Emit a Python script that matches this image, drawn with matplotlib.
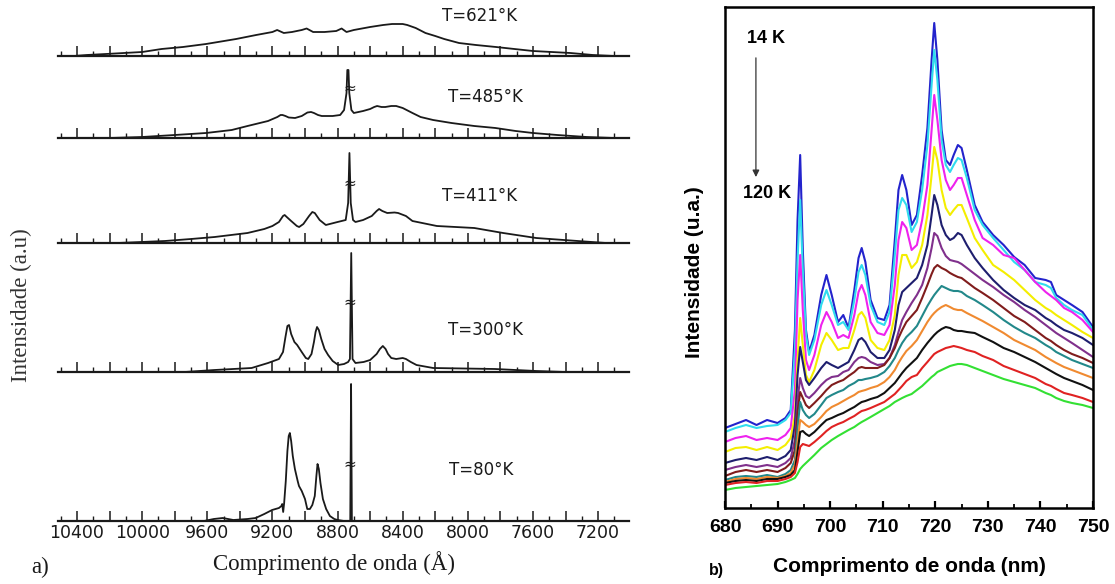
import matplotlib

matplotlib.use("Agg")
import matplotlib.pyplot as plt
from matplotlib.ticker import FuncFormatter, MultipleLocator

# ---------------- panel a: spectra (wavelength in Angstrom, height above baseline) ----------
a_temps = ["T=621°K", "T=485°K", "T=411°K", "T=300°K", "T=80°K"]

a621_wl = [10420, 10340, 10223, 10000, 9881, 9750, 9608, 9423, 9300, 9200, 9171, 9130, 9080,
           9020, 8990, 8950, 8880, 8808, 8775, 8745, 8700, 8600, 8520, 8465, 8400, 8372, 8320,
           8260, 8200, 8145, 8054, 7950, 7827, 7600, 7370, 7232, 7100]
a621_h = [0, 1, 2, 4, 7, 9, 12, 17, 21, 24, 26, 23, 24, 26, 27.5, 24, 24, 25, 27.5, 24, 26, 29,
          31, 32, 32, 31, 28, 23, 20, 17, 13, 11, 9, 5, 3, 1, 0]

a485_wl = [10200, 10000, 9800, 9608, 9450, 9353, 9227, 9170, 9150, 9138, 9120, 9100, 9061, 9020,
           8985, 8963, 8945, 8920, 8897, 8830, 8784, 8760, 8745, 8740, 8733, 8728, 8715, 8700,
           8643, 8600, 8575, 8557, 8530, 8507, 8470, 8440, 8400, 8340, 8290, 8213, 8100, 7960,
           7830, 7706, 7600, 7451, 7270, 7100]
a485_h = [0, 1, 3, 5, 8, 12, 17, 21, 23, 23, 22, 20.5, 20, 22, 25.5, 26, 25, 23, 22, 22, 23, 28,
          45, 68, 68, 45, 28, 25, 27, 29, 31, 32, 31, 31, 32, 32, 30, 25, 21, 18, 15, 12, 10, 7,
          5, 3, 1, 0]

a411_wl = [10150, 9860, 9700, 9555, 9353, 9250, 9200, 9160, 9135, 9125, 9112, 9085, 9050, 9036,
           9010, 8975, 8955, 8940, 8910, 8872, 8800, 8750, 8735, 8727, 8719, 8705, 8690, 8643,
           8590, 8560, 8545, 8525, 8495, 8450, 8428, 8380, 8340, 8190, 7960, 7783, 7580, 7325,
           7150]
a411_h = [0, 2, 4, 6, 10, 14, 17, 21, 27, 28, 26, 22, 17, 16, 19, 27, 31, 30, 23, 18, 21, 23,
          40, 90, 40, 23, 21, 23, 27, 32, 34, 32, 30, 30.5, 30, 27, 22, 17, 15, 10, 5, 2, 0]

a300_wl = [9740, 9555, 9328, 9227, 9160, 9135, 9120, 9108, 9098, 9085, 9065, 9048, 9020, 8995,
           8980, 8960, 8945, 8935, 8926, 8915, 8900, 8880, 8858, 8830, 8796, 8760, 8735, 8724,
           8716, 8708, 8690, 8640, 8600, 8560, 8540, 8522, 8505, 8490, 8470, 8440, 8400, 8380,
           8350, 8315, 8213, 7833, 7580, 7400]
a300_h = [0, 2, 4, 9, 13, 20, 35, 46, 47, 38, 30, 27, 20, 14, 13, 18, 30, 40, 45, 42, 33, 23,
          17, 11, 7, 8, 10, 13, 119, 13, 9, 10, 12, 18, 23, 26, 23, 18, 14, 13, 14, 13, 10, 7,
          4, 3, 1, 0]

a80_wl = [9620, 9560, 9505, 9440, 9353, 9303, 9250, 9202, 9160, 9145, 9140, 9134, 9128, 9118,
          9108, 9100, 9093, 9085, 9075, 9062, 9045, 9037, 9020, 9000, 8986, 8970, 8955, 8940,
          8930, 8923, 8915, 8905, 8890, 8870, 8847, 8820, 8800, 8760, 8722, 8717, 8712, 8650]
a80_h = [0, 2, 3, 1, 2, 3, 7, 11, 13, 15, 17, 9, 18, 40, 70, 85, 88, 80, 65, 52, 40, 35, 30, 22,
         12, 12, 16, 25, 45, 57, 52, 38, 22, 12, 5, 2, 1, 0, 0, 137, 0, 0]

a_spectra = [(a621_wl, a621_h), (a485_wl, a485_h), (a411_wl, a411_h), (a300_wl, a300_h),
             (a80_wl, a80_h)]
a_break_wl = 8722
a_break_h = [None, 50, 60, 70, 57]
a_tick_labels = [10400, 10000, 9600, 9200, 8800, 8400, 8000, 7600, 7200]

# ---------------- panel b: PL spectra 14 K -> 120 K (u.a.) ----------------
b_wl = [680, 682, 684, 686, 688, 690, 691.5, 692.5, 693.3, 693.8, 694.3, 694.8, 695.4, 696, 697,
        698.3, 699.3, 700.3, 701.5, 702.5, 703.5, 704.6, 705.4, 706, 706.7, 707.7, 709, 710.3,
        711.3, 712.3, 713, 713.7, 714.5, 715.5, 716.5, 717.5, 718.5, 719.3, 719.8, 720.4, 721.2,
        722, 722.8, 723.5, 724.3, 725, 726, 727.5, 729, 731, 733, 735, 737, 739, 741, 742, 743,
        744.5, 746, 748, 750]

b_blue = [80, 84, 88, 83, 88, 85, 90, 98, 178, 288, 353, 258, 178, 156, 173, 213, 233, 213, 186,
          193, 180, 218, 250, 260, 246, 208, 190, 188, 203, 268, 318, 333, 318, 283, 293, 333,
          380, 448, 485, 448, 378, 348, 343, 353, 363, 360, 338, 303, 286, 273, 263, 251, 243,
          230, 228, 226, 213, 208, 203, 196, 181]
b_cyan = [76, 80, 83, 80, 82, 83, 88, 95, 158, 248, 308, 238, 173, 153, 168, 203, 218, 203, 183,
          186, 178, 208, 236, 243, 233, 203, 186, 183, 196, 253, 298, 310, 303, 276, 286, 318,
          363, 423, 458, 428, 368, 343, 336, 343, 350, 348, 330, 298, 283, 270, 258, 246, 238,
          226, 223, 220, 210, 203, 198, 193, 178]
b_magenta = [66, 70, 72, 68, 70, 68, 73, 80, 118, 208, 253, 198, 148, 138, 153, 183, 196, 186,
             170, 173, 170, 193, 216, 223, 213, 186, 175, 173, 183, 223, 268, 286, 280, 258, 263,
             288, 323, 378, 413, 388, 348, 328, 318, 323, 330, 330, 313, 288, 270, 263, 253, 250,
             238, 226, 216, 212, 208, 200, 196, 188, 176]
b_yellow = [56, 60, 61, 58, 61, 58, 63, 70, 93, 148, 190, 163, 133, 126, 138, 163, 175, 168, 158,
            160, 160, 178, 193, 196, 190, 168, 160, 158, 168, 193, 233, 253, 253, 240, 246, 263,
            293, 333, 361, 348, 318, 300, 293, 298, 303, 303, 290, 270, 258, 243, 236, 228, 218,
            208, 200, 197, 193, 188, 183, 176, 170]
b_navy = [45, 48, 50, 48, 51, 48, 52, 58, 83, 133, 161, 146, 128, 123, 130, 140, 146, 143, 140,
          143, 146, 158, 168, 170, 166, 156, 150, 150, 158, 178, 203, 216, 220, 225, 230, 243,
          263, 293, 313, 303, 283, 273, 268, 270, 275, 273, 263, 250, 240, 228, 218, 210, 203,
          198, 190, 187, 183, 178, 175, 170, 163]
b_purple = [38, 41, 43, 41, 43, 41, 45, 50, 68, 108, 130, 120, 112, 110, 115, 123, 128, 131, 132,
            136, 138, 146, 150, 151, 150, 146, 143, 144, 150, 163, 176, 188, 196, 205, 213, 223,
            240, 260, 275, 272, 260, 252, 248, 247, 246, 244, 240, 234, 228, 221, 213, 206, 198,
            191, 183, 179, 175, 170, 165, 158, 151]
b_maroon = [32, 36, 38, 36, 38, 36, 40, 45, 58, 96, 116, 110, 103, 100, 105, 112, 118, 123, 126,
            128, 132, 136, 140, 141, 140, 140, 140, 143, 150, 160, 170, 178, 186, 192, 198, 210,
            223, 234, 240, 243, 240, 238, 235, 233, 231, 230, 226, 220, 215, 208, 200, 192, 186,
            178, 170, 167, 163, 158, 154, 150, 145]
b_teal = [28, 31, 32, 31, 33, 31, 34, 38, 48, 80, 106, 98, 93, 90, 94, 103, 110, 113, 116, 118,
          122, 125, 128, 128, 129, 130, 132, 136, 142, 150, 158, 165, 171, 176, 182, 192, 202,
          209, 213, 217, 222, 220, 218, 217, 217, 216, 212, 208, 203, 196, 188, 181, 175, 170,
          163, 160, 156, 152, 148, 144, 140]
b_orange = [26, 29, 30, 29, 31, 30, 32, 35, 43, 66, 88, 86, 83, 81, 84, 91, 97, 101, 104, 107,
            110, 113, 116, 117, 118, 120, 122, 126, 131, 138, 145, 151, 157, 162, 168, 177, 186,
            192, 195, 198, 201, 203, 201, 199, 198, 198, 195, 191, 187, 181, 175, 168, 163, 158,
            151, 148, 145, 141, 138, 134, 130]
b_black = [25, 27, 28, 27, 29, 29, 31, 33, 38, 56, 76, 77, 74, 72, 76, 83, 88, 90, 93, 95, 98,
           101, 104, 106, 107, 109, 111, 115, 120, 125, 130, 135, 140, 145, 150, 158, 165, 170,
           173, 176, 179, 181, 180, 178, 177, 177, 176, 175, 171, 166, 160, 156, 151, 146, 140,
           137, 134, 130, 127, 123, 118]
b_red = [23, 25, 26, 25, 27, 27, 29, 31, 35, 46, 61, 64, 63, 62, 66, 72, 77, 81, 84, 86, 89, 92,
         95, 97, 98, 100, 103, 106, 110, 114, 118, 122, 127, 131, 133, 140, 146, 151, 154, 156,
         158, 160, 161, 162, 161, 160, 158, 156, 152, 148, 142, 138, 134, 130, 124, 122, 119,
         115, 113, 110, 106]
b_green = [18, 20, 21, 22, 23, 24, 26, 28, 30, 34, 39, 42, 45, 48, 53, 60, 64, 68, 72, 75, 78,
           81, 84, 86, 88, 91, 95, 99, 102, 106, 108, 110, 112, 114, 118, 122, 127, 131, 133,
           136, 138, 140, 142, 143, 144, 144, 143, 140, 137, 133, 129, 126, 123, 120, 115, 113,
           110, 107, 105, 103, 100]

b_series = [b_blue, b_cyan, b_magenta, b_yellow, b_navy, b_purple, b_maroon, b_teal, b_orange,
            b_black, b_red, b_green]
b_colors = ["#2323cc", "#30dcee", "#ee22ee", "#f4ee00", "#1e1e6e", "#80308c", "#801c1c",
            "#22888a", "#f08a30", "#111111", "#e02222", "#33e033"]

# ---------------- layout helpers ----------------
W, H = 1115, 584


def px_rect(x0, y_top, x1, y_bottom):
    return [x0 / W, 1 - y_bottom / H, (x1 - x0) / W, (y_bottom - y_top) / H]


def fx(x):
    return x / W


def fy(y):
    return 1 - y / H


fig = plt.figure(figsize=(W / 100, H / 100), dpi=100)
fig.patch.set_facecolor("white")

# ---------------- panel a ----------------
baselines = [56, 138, 243, 372, 521]
label_pos = [(480, 16), (485, 97), (480, 196), (485, 330), (481, 470)]
ink = "#1a1a1a"

for i, ((wl, h), yb) in enumerate(zip(a_spectra, baselines)):
    ax = fig.add_axes(px_rect(58, yb - 60, 629, yb))
    ax.patch.set_visible(False)
    ax.set_xlim(10517, 7010)
    ax.set_ylim(0, 60)
    for side in ("top", "left", "right"):
        ax.spines[side].set_visible(False)
    ax.spines["bottom"].set_linewidth(1.6)
    ax.spines["bottom"].set_color(ink)
    ax.set_yticks([])
    ax.xaxis.set_major_locator(MultipleLocator(200))
    ax.xaxis.set_minor_locator(MultipleLocator(100))
    ax.tick_params(axis="x", which="major", direction="in", length=7.5, width=1.1, color=ink,
                   pad=2, labelsize=12.5, labelcolor=ink)
    ax.tick_params(axis="x", which="minor", direction="in", length=3.5, width=1.0, color=ink)
    if i == len(a_spectra) - 1:
        ax.xaxis.set_major_formatter(
            FuncFormatter(lambda v, p: f"{int(round(v))}" if int(round(v)) in a_tick_labels else "")
        )
    else:
        ax.set_xticklabels([])
    ax.plot(wl, h, color=ink, lw=1.3, clip_on=False, solid_joinstyle="round")
    if a_break_h[i] is not None:
        ax.text(a_break_wl, a_break_h[i], "≈", ha="center", va="center", fontsize=11,
                color=ink, clip_on=False)
    lx, ly = label_pos[i]
    fig.text(fx(lx), fy(ly), a_temps[i], ha="center", va="center", fontsize=12, color=ink,
             family="DejaVu Sans")

serif = ["Liberation Serif", "DejaVu Serif"]
fig.text(fx(334), fy(563), "Comprimento de onda (Å)", ha="center", va="center",
         fontsize=16.5, family=serif, color=ink)
fig.text(fx(21), fy(305), "Intensidade (a.u)", ha="center", va="center", rotation=90,
         fontsize=16.5, family=serif, color="#333333")
fig.text(fx(40), fy(567), "a)", ha="center", va="center", fontsize=16.5, family=serif,
         color=ink)

# ---------------- panel b ----------------
sans = ["Liberation Sans", "DejaVu Sans"]
axb = fig.add_axes(px_rect(725, 7, 1093, 508))
for ys, c in zip(b_series, b_colors):
    axb.plot(b_wl, ys, color=c, lw=1.5)
axb.set_xlim(680, 750)
axb.set_ylim(0, 501)
axb.set_yticks([])
axb.xaxis.set_major_locator(MultipleLocator(10))
axb.xaxis.set_minor_locator(MultipleLocator(5))
axb.tick_params(axis="x", which="major", direction="in", length=5, width=1.6, pad=8)
axb.tick_params(axis="x", which="minor", direction="in", length=3, width=1.3)
for lab in axb.get_xticklabels():
    lab.set_fontsize(14)
    lab.set_fontweight("bold")
    lab.set_family(sans)
for sp in axb.spines.values():
    sp.set_linewidth(1.8)

axb.text(0.111, 0.938, "14 K", transform=axb.transAxes, ha="center", va="center",
         fontsize=13, fontweight="bold", family=sans)
axb.text(0.115, 0.627, "120 K", transform=axb.transAxes, ha="center", va="center",
         fontsize=13, fontweight="bold", family=sans)
axb.annotate("", xy=(0.084, 0.655), xytext=(0.084, 0.904), xycoords="axes fraction",
             arrowprops=dict(arrowstyle="-|>", color="#333333", lw=0.9, mutation_scale=10))

fig.text(fx(909), fy(567), "Comprimento de onda (nm)", ha="center", va="center", fontsize=15,
         fontweight="bold", family=sans)
fig.text(fx(695), fy(272), "Intensidade (u.a.)", ha="center", va="center", rotation=90,
         fontsize=15, fontweight="bold", family=sans)
fig.text(fx(716), fy(571), "b)", ha="center", va="center", fontsize=11.5, fontweight="bold",
         family=sans)

fig.savefig("out.png", dpi=100, facecolor="white")
